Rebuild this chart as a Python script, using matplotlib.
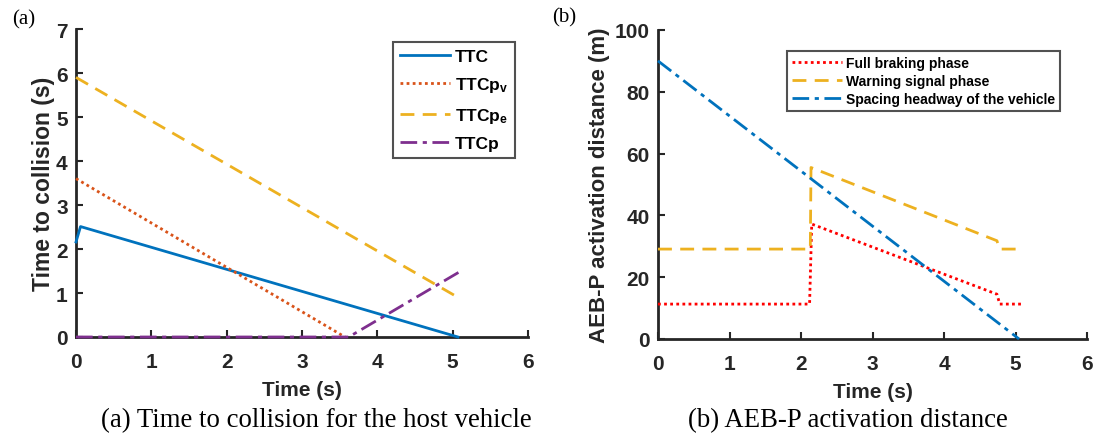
import matplotlib
matplotlib.use("Agg")
import matplotlib.pyplot as plt

plt.rcParams['font.family'] = ['Liberation Sans', 'DejaVu Sans']
plt.rcParams['font.weight'] = 'bold'
plt.rcParams['axes.labelweight'] = 'bold'
plt.rcParams['mathtext.fontset'] = 'custom'
plt.rcParams['mathtext.rm'] = 'Liberation Sans:bold'
plt.rcParams['mathtext.bf'] = 'Liberation Sans:bold'
plt.rcParams['mathtext.default'] = 'rm'

# (a) time to collision, piecewise-linear curves
ttc_t = [0, 0.06, 5.07]
ttc_v = [2.16, 2.51, 0]
ttcpv_t = [0, 3.57]
ttcpv_v = [3.6, 0]
ttcpe_t = [0, 5.02]
ttcpe_v = [5.9, 0.95]
ttcp_t = [0, 3.62, 5.09]
ttcp_v = [0, 0, 1.48]

# (b) AEB-P activation distance
brake_t = [0, 2.12, 2.15, 4.74, 4.78, 5.1]
brake_v = [11.3, 11.3, 37.2, 14.5, 11.3, 11.3]
warn_t = [0, 2.13, 2.14, 4.74, 4.78, 5.1]
warn_v = [29.1, 29.1, 55.5, 31.8, 29.1, 29.1]
head_t = [0, 5.05]
head_v = [90, 0]

BLUE = '#0072BD'
ORANGE = '#D95319'
YELLOW = '#EDB120'
PURPLE = '#7E2F8E'
RED = '#FF0000'
AXC = '#262626'

fig = plt.figure(figsize=(10.94, 4.39), dpi=100)
W, H = 1094, 439
ax1 = fig.add_axes([76 / W, 1 - 338 / H, (528 - 76) / W, (338 - 30) / H])
ax2 = fig.add_axes([658 / W, 1 - 340 / H, (1087 - 658) / W, (340 - 31) / H])

ax1.plot(ttc_t, ttc_v, color=BLUE, lw=2, label='TTC', clip_on=False, zorder=4)
ax1.plot(ttcpv_t, ttcpv_v, color=ORANGE, lw=2, ls=(0, (1, 1.2)), label='TTCp$_\\mathrm{v}$',
         clip_on=False, zorder=4)
ax1.plot(ttcpe_t, ttcpe_v, color=YELLOW, lw=2, ls=(0, (5, 3)), label='TTCp$_\\mathrm{e}$',
         clip_on=False, zorder=4)
ax1.plot(ttcp_t, ttcp_v, color=PURPLE, lw=2, ls=(0, (6, 2, 1.5, 2)), label='TTCp',
         clip_on=False, zorder=5)
ax1.set_xlim(0, 6)
ax1.set_ylim(0, 7)
ax1.set_xlabel('Time (s)', fontsize=15, labelpad=6)
ax1.set_ylabel('Time to collision (s)', fontsize=16.5, labelpad=1)
leg1 = ax1.legend(loc='upper right', bbox_to_anchor=(515 / W, 1 - 43 / H),
                  bbox_transform=fig.transFigure, fontsize=12.5, frameon=True,
                  fancybox=False, edgecolor=AXC, handlelength=2.9,
                  labelspacing=0.65, borderpad=0.4, handletextpad=0.25,
                  borderaxespad=0)
leg1.get_frame().set_linewidth(1.5)

ax2.plot(brake_t, brake_v, color=RED, lw=2, ls=(0, (1, 1.2)), label='Full braking phase',
         clip_on=False, zorder=4)
ax2.plot(warn_t, warn_v, color=YELLOW, lw=2, ls=(0, (5, 3)), label='Warning signal phase',
         clip_on=False, zorder=4)
ax2.plot(head_t, head_v, color=BLUE, lw=2, ls=(0, (6, 2, 1.5, 2)),
         label='Spacing headway of the vehicle', clip_on=False, zorder=4)
ax2.set_xlim(0, 6)
ax2.set_ylim(0, 100)
ax2.set_xlabel('Time (s)', fontsize=15, labelpad=6)
ax2.set_ylabel('AEB-P activation distance (m)', fontsize=16, labelpad=3)
leg2 = ax2.legend(loc='upper right', bbox_to_anchor=(1060 / W, 1 - 52 / H),
                  bbox_transform=fig.transFigure, fontsize=10, frameon=True,
                  fancybox=False, edgecolor=AXC, handlelength=3.6,
                  labelspacing=0.3, borderpad=0.35, handletextpad=0.3,
                  borderaxespad=0)
leg2.get_frame().set_linewidth(1.5)

for ax in (ax1, ax2):
    ax.spines['top'].set_visible(False)
    ax.spines['right'].set_visible(False)
    for s in ('left', 'bottom'):
        ax.spines[s].set_linewidth(2)
        ax.spines[s].set_color(AXC)
    ax.tick_params(direction='in', length=5, width=1.5, colors=AXC,
                   labelsize=15)
    ax.tick_params(axis='x', pad=11)
    ax.tick_params(axis='y', pad=6)
    for lab in ax.get_xticklabels() + ax.get_yticklabels():
        lab.set_fontweight('bold')
    ax.xaxis.label.set_color(AXC)
    ax.yaxis.label.set_color(AXC)

serif = ['Liberation Serif', 'DejaVu Serif']
fig.text(12 / W, 1 - 20 / H, '(a)', family=serif, fontweight='normal', fontsize=15,
         va='center', ha='left')
fig.text(552 / W, 1 - 18 / H, '(b)', family=serif, fontweight='normal', fontsize=15,
         va='center', ha='left')
fig.text(316 / W, 1 - 427 / H, '(a) Time to collision for the host vehicle', family=serif,
         fontweight='normal', fontsize=19.3, ha='center', va='baseline')
fig.text(848 / W, 1 - 427 / H, '(b) AEB-P activation distance', family=serif,
         fontweight='normal', fontsize=19.3, ha='center', va='baseline')

fig.savefig('out.png', dpi=100)
